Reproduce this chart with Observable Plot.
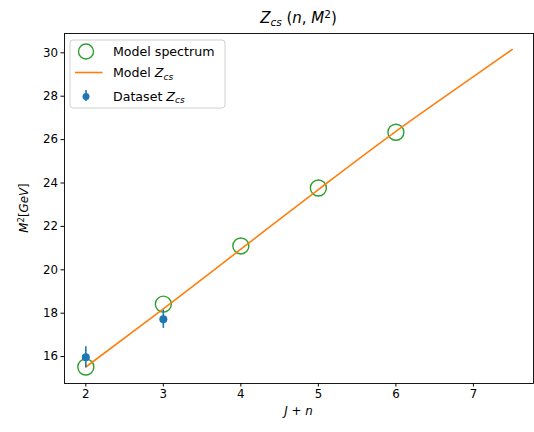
<!DOCTYPE html>
<html>
<head>
<meta charset="utf-8">
<script src="https://cdn.jsdelivr.net/npm/d3@7"></script>
<script src="https://cdn.jsdelivr.net/npm/@observablehq/plot@0.6"></script>
<style>
  html, body { margin: 0; padding: 0; background: #fff; }
  svg { font-family: "DejaVu Sans", sans-serif; }
</style>
</head>
<body>
<div id="chart"></div>
<script>
// Model spectrum (circles)
const specN = [2, 3, 4, 5, 6];
const specM2 = [15.52, 18.42, 21.1, 23.77, 26.34];
// Model Z_cs line
const lineN = [2, 3, 4, 5, 6, 7, 7.5];
const lineM2 = [15.52, 18.2, 20.95, 23.7, 26.38, 28.9, 30.15];
// Dataset Z_cs with errors
const dataN = [2, 3];
const dataM2 = [15.97, 17.72];
const dataErr = [0.48, 0.42];
const xTicks = [2, 3, 4, 5, 6, 7];
const yTicks = [16, 18, 20, 22, 24, 26, 28, 30];

const spec = specN.map((n, i) => ({n, m: specM2[i]}));
const line = lineN.map((n, i) => ({n, m: lineM2[i]}));
const data = dataN.map((n, i) => ({n, m: dataM2[i], lo: dataM2[i] - dataErr[i], hi: dataM2[i] + dataErr[i]}));

const blue = "#1f77b4", orange = "#ff7f0e", green = "#2ca02c";

const chart = Plot.plot({
  width: 534,
  height: 432,
  marginLeft: 64,
  marginRight: 1,
  marginTop: 33,
  marginBottom: 49,
  style: {fontFamily: "DejaVu Sans, sans-serif", fontSize: "11.5px", color: "#000", background: "#fff"},
  x: {domain: [1.725, 7.775], label: null},
  y: {domain: [14.76, 30.89], label: null},
  marks: [
    Plot.axisX({ticks: xTicks, tickSize: 3.5, tickPadding: 3, fontSize: 11.8, stroke: "#000", fill: "#000", tickFormat: d => String(d)}),
    Plot.axisY({ticks: yTicks, tickSize: 3.5, tickPadding: 3, fontSize: 11.8, stroke: "#000", fill: "#000", tickFormat: d => String(d)}),
    Plot.dot(spec, {x: "n", y: "m", r: 8, stroke: green, strokeWidth: 1.4, fill: "none"}),
    Plot.line(line, {x: "n", y: "m", stroke: orange, strokeWidth: 1.6, curve: "monotone-x"}),
    Plot.ruleX(data, {x: "n", y1: "lo", y2: "hi", stroke: blue, strokeWidth: 1.6}),
    Plot.dot(data, {x: "n", y: "m", r: 4, fill: blue, stroke: "none"}),
    Plot.frame({stroke: "#000", strokeWidth: 0.9})
  ]
});

document.getElementById("chart").appendChild(chart);

const svg = d3.select(chart);
// Title
const title = svg.append("text")
  .attr("x", 298.5).attr("y", 23)
  .attr("text-anchor", "middle")
  .attr("font-size", 15).attr("fill", "#000");
title.append("tspan").attr("font-style", "italic").text("Z");
title.append("tspan").attr("font-style", "italic").attr("font-size", 10.5).attr("dy", 3).text("cs");
title.append("tspan").attr("dy", -3).text(" (");
title.append("tspan").attr("font-style", "italic").text("n");
title.append("tspan").text(", ");
title.append("tspan").attr("font-style", "italic").text("M");
title.append("tspan").attr("font-size", 10.5).attr("dy", -5).text("2");
title.append("tspan").attr("dy", 5).text(")");

// X label
const xl = svg.append("text")
  .attr("x", 298.5).attr("y", 415)
  .attr("text-anchor", "middle")
  .attr("font-size", 11.8).attr("fill", "#000");
xl.append("tspan").attr("font-style", "italic").text("J");
xl.append("tspan").text(" + ");
xl.append("tspan").attr("font-style", "italic").text("n");

// Y label
const yl = svg.append("text")
  .attr("transform", "translate(28,208) rotate(-90)")
  .attr("text-anchor", "middle")
  .attr("font-size", 11.8).attr("fill", "#000");
yl.append("tspan").attr("font-style", "italic").text("M");
yl.append("tspan").attr("font-size", 8.5).attr("dy", -4).text("2");
yl.append("tspan").attr("dy", 4).text("[");
yl.append("tspan").attr("font-style", "italic").text("GeV");
yl.append("tspan").text("]");

// Legend
const lg = svg.append("g").attr("text-anchor", "start");
lg.append("rect").attr("x", 70).attr("y", 40).attr("width", 155).attr("height", 68)
  .attr("rx", 3).attr("fill", "#fff").attr("fill-opacity", 0.8)
  .attr("stroke", "#d0d0d0").attr("stroke-width", 1);
lg.append("circle").attr("cx", 86).attr("cy", 51.5).attr("r", 7.5)
  .attr("fill", "none").attr("stroke", green).attr("stroke-width", 1.4);
lg.append("text").attr("x", 113).attr("y", 56).attr("text-anchor", "start").attr("font-size", 12.6).attr("fill", "#000").text("Model spectrum");
lg.append("line").attr("x1", 75).attr("x2", 102.5).attr("y1", 72.5).attr("y2", 72.5)
  .attr("stroke", orange).attr("stroke-width", 1.6);
const t2 = lg.append("text").attr("x", 113).attr("y", 77).attr("text-anchor", "start").attr("font-size", 12.6).attr("fill", "#000");
t2.append("tspan").text("Model ");
t2.append("tspan").attr("font-style", "italic").text("Z");
t2.append("tspan").attr("font-style", "italic").attr("font-size", 9).attr("dy", 2.5).text("cs");
lg.append("line").attr("x1", 86).attr("x2", 86).attr("y1", 90).attr("y2", 101)
  .attr("stroke", blue).attr("stroke-width", 1.6);
lg.append("circle").attr("cx", 86).attr("cy", 96.5).attr("r", 3.5).attr("fill", blue);
const t3 = lg.append("text").attr("x", 113).attr("y", 100.5).attr("text-anchor", "start").attr("font-size", 12.6).attr("fill", "#000");
t3.append("tspan").text("Dataset ");
t3.append("tspan").attr("font-style", "italic").text("Z");
t3.append("tspan").attr("font-style", "italic").attr("font-size", 9).attr("dy", 2.5).text("cs");
</script>
</body>
</html>
